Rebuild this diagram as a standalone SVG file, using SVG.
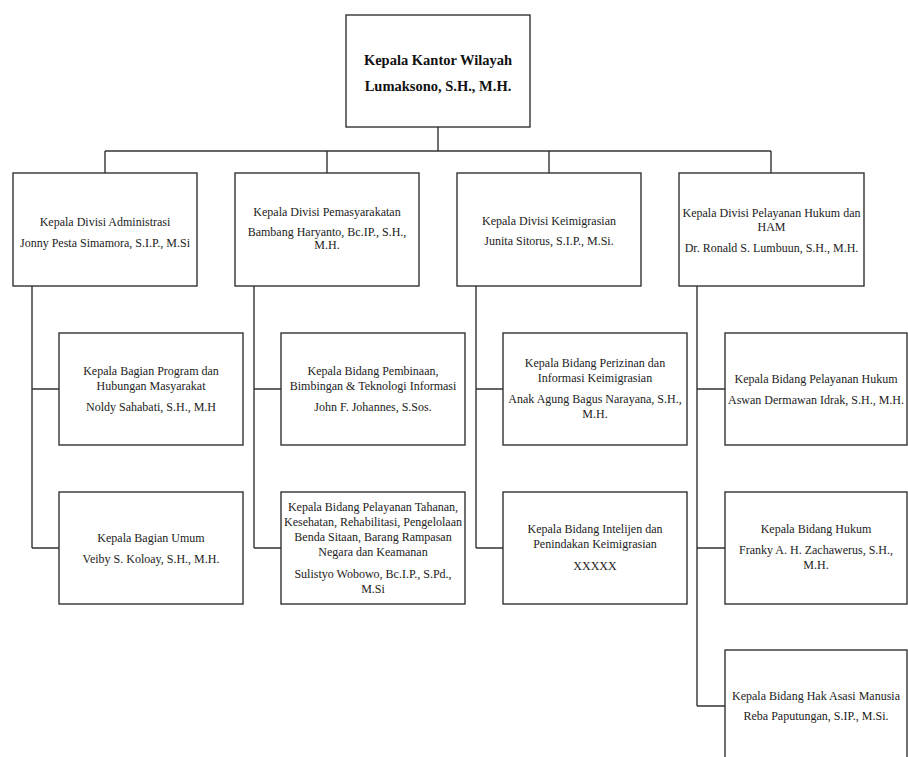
<svg xmlns="http://www.w3.org/2000/svg" width="908" height="757" viewBox="0 0 908 757">
<style>
.box{fill:#fff;stroke:#333;stroke-width:1.4}
.ln{fill:none;stroke:#333;stroke-width:1.4}
text{font-family:"Liberation Serif","Times New Roman",serif;font-size:12px;fill:#222;text-anchor:middle}
.b{font-weight:bold;font-size:14.5px;fill:#111}
</style>
<rect width="908" height="757" fill="#fff"/>
<g id="connectors">
<path class="ln" d="M438 127V151M105 151H771M105 151V173M327 151V173M549 151V173M771 151V173"/>
<path class="ln" d="M32 286V548M32 389H59M32 548H59"/>
<path class="ln" d="M254 286V548M254 389H281M254 548H281"/>
<path class="ln" d="M476 286V548M476 389H503M476 548H503"/>
<path class="ln" d="M697 286V706M697 389H725M697 548H725M697 706H725"/>
</g>
<g id="kepala-kanwil">
<rect class="box" x="346" y="15" width="184" height="112"/>
<text class="b" x="438" y="65">Kepala Kantor Wilayah</text>
<text class="b" x="438" y="91">Lumaksono, S.H., M.H.</text>
</g>
<g id="div-administrasi">
<rect class="box" x="13" y="173" width="184" height="113"/>
<text x="105" y="226">Kepala Divisi Administrasi</text>
<text x="105" y="246.5">Jonny Pesta Simamora, S.I.P., M.Si</text>
</g>
<g id="div-pemasyarakatan">
<rect class="box" x="235" y="173" width="184" height="113"/>
<text x="327" y="216">Kepala Divisi Pemasyarakatan</text>
<text x="327" y="235.5">Bambang Haryanto, Bc.IP., S.H.,</text>
<text x="327" y="248.5">M.H.</text>
</g>
<g id="div-keimigrasian">
<rect class="box" x="457" y="173" width="184" height="113"/>
<text x="549" y="225">Kepala Divisi Keimigrasian</text>
<text x="549" y="245">Junita Sitorus, S.I.P., M.Si.</text>
</g>
<g id="div-pelayanan-hukum">
<rect class="box" x="679" y="173" width="185" height="113"/>
<text x="771.5" y="217">Kepala Divisi Pelayanan Hukum dan</text>
<text x="771.5" y="230.5">HAM</text>
<text x="771.5" y="252">Dr. Ronald S. Lumbuun, S.H., M.H.</text>
</g>
<g id="bag-program">
<rect class="box" x="59" y="333" width="184" height="112"/>
<text x="151" y="375">Kepala Bagian Program dan</text>
<text x="151" y="390">Hubungan Masyarakat</text>
<text x="151" y="411">Noldy Sahabati, S.H., M.H</text>
</g>
<g id="bag-umum">
<rect class="box" x="59" y="492" width="184" height="112"/>
<text x="151" y="542">Kepala Bagian Umum</text>
<text x="151" y="563">Veiby S. Koloay, S.H., M.H.</text>
</g>
<g id="bid-pembinaan">
<rect class="box" x="281" y="333" width="184" height="112"/>
<text x="373" y="375">Kepala Bidang Pembinaan,</text>
<text x="373" y="390">Bimbingan &amp; Teknologi Informasi</text>
<text x="373" y="411">John F. Johannes, S.Sos.</text>
</g>
<g id="bid-pelayanan-tahanan">
<rect class="box" x="281" y="492" width="184" height="112"/>
<text x="373" y="511">Kepala Bidang Pelayanan Tahanan,</text>
<text x="373" y="526">Kesehatan, Rehabilitasi, Pengelolaan</text>
<text x="373" y="541">Benda Sitaan, Barang Rampasan</text>
<text x="373" y="556">Negara dan Keamanan</text>
<text x="373" y="578">Sulistyo Wobowo, Bc.I.P., S.Pd.,</text>
<text x="373" y="593">M.Si</text>
</g>
<g id="bid-perizinan">
<rect class="box" x="503" y="333" width="184" height="112"/>
<text x="595" y="367">Kepala Bidang Perizinan dan</text>
<text x="595" y="382">Informasi Keimigrasian</text>
<text x="595" y="403">Anak Agung Bagus Narayana, S.H.,</text>
<text x="595" y="418">M.H.</text>
</g>
<g id="bid-intelijen">
<rect class="box" x="503" y="492" width="184" height="112"/>
<text x="595" y="533">Kepala Bidang Intelijen dan</text>
<text x="595" y="548">Penindakan Keimigrasian</text>
<text x="595" y="570">XXXXX</text>
</g>
<g id="bid-pelayanan-hukum">
<rect class="box" x="725" y="333" width="182" height="112"/>
<text x="816" y="383">Kepala Bidang Pelayanan Hukum</text>
<text x="816" y="403.5">Aswan Dermawan Idrak, S.H., M.H.</text>
</g>
<g id="bid-hukum">
<rect class="box" x="725" y="492" width="182" height="112"/>
<text x="816" y="533">Kepala Bidang Hukum</text>
<text x="816" y="554">Franky A. H. Zachawerus, S.H.,</text>
<text x="816" y="569">M.H.</text>
</g>
<g id="bid-ham">
<rect class="box" x="725" y="650" width="182" height="120"/>
<text x="816" y="700">Kepala Bidang Hak Asasi Manusia</text>
<text x="816" y="720">Reba Paputungan, S.IP., M.Si.</text>
</g>
</svg>
